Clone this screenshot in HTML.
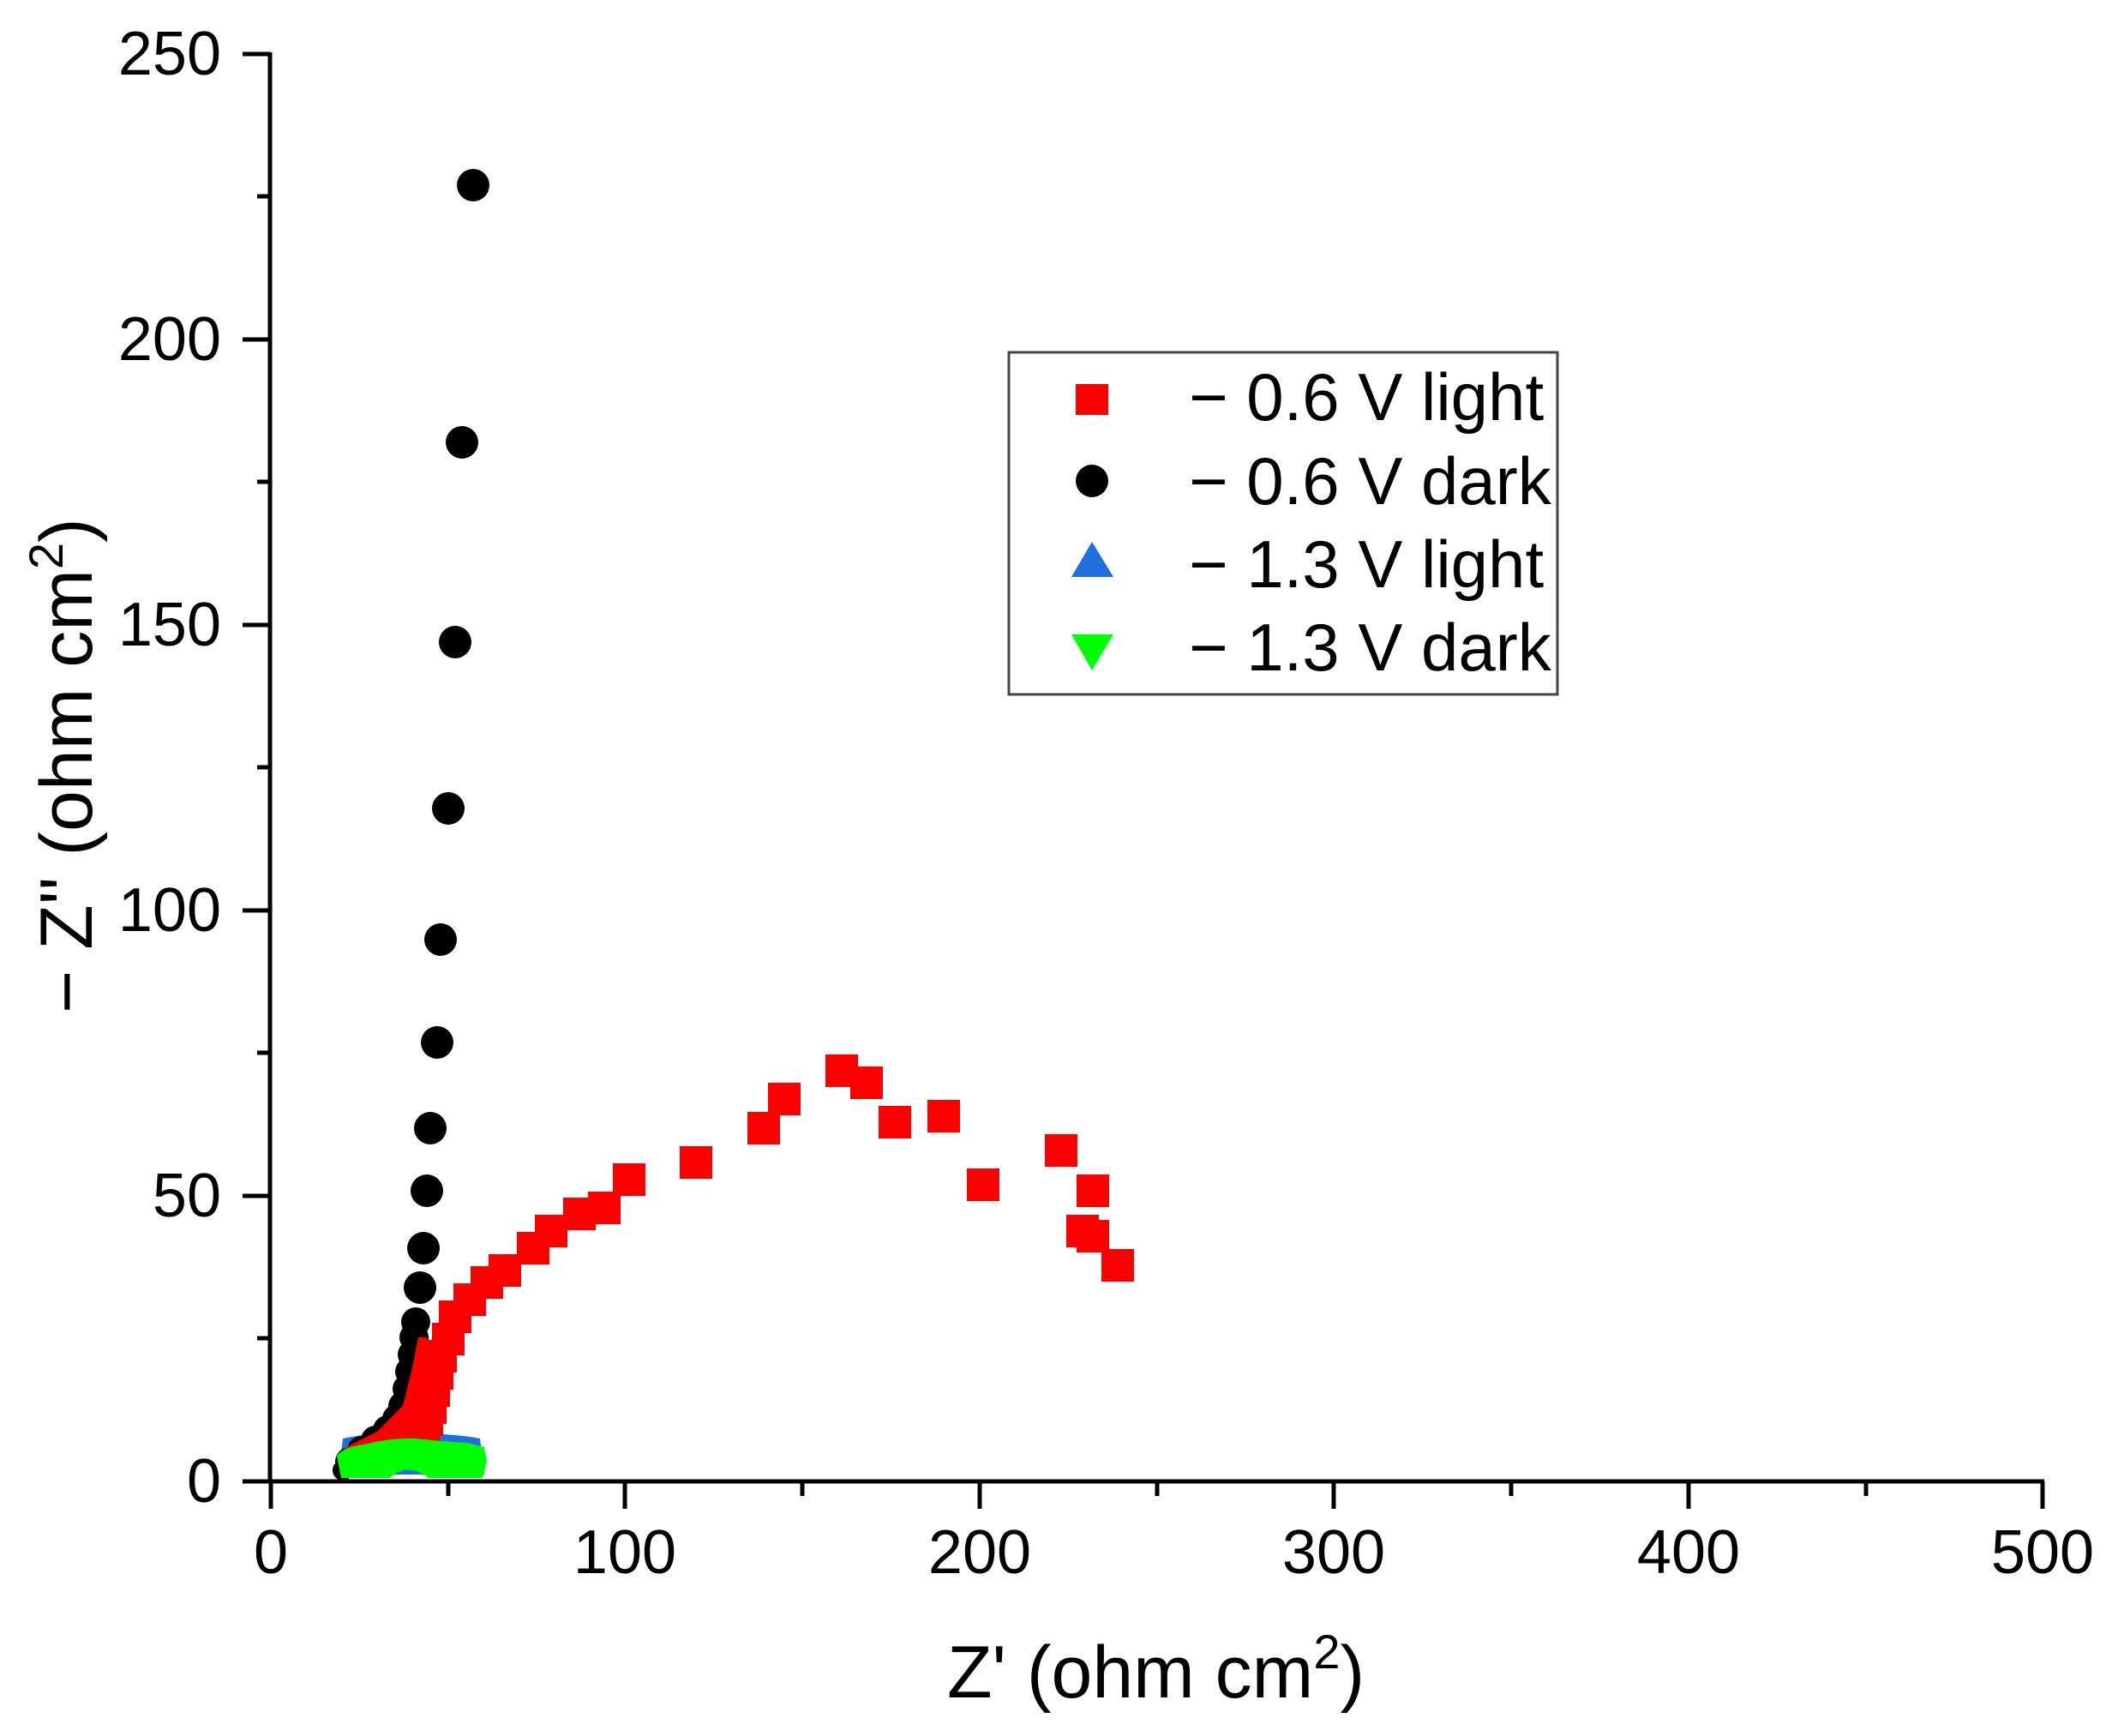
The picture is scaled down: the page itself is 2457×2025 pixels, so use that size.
<!DOCTYPE html>
<html><head><meta charset="utf-8"><style>
html,body{margin:0;padding:0;background:#fff;}
svg{display:block;font-family:"Liberation Sans",Arial,sans-serif;}
</style></head><body>
<svg width="2457" height="2025" viewBox="0 0 2457 2025" xmlns="http://www.w3.org/2000/svg">
<rect width="2457" height="2025" fill="#fff"/>
<g stroke="#000" stroke-width="5" fill="none">
<line x1="315" y1="61" x2="315" y2="1730"/>
<line x1="313" y1="1728" x2="2385" y2="1728"/>
<line x1="283" y1="63" x2="315" y2="63"/>
<line x1="283" y1="396" x2="315" y2="396"/>
<line x1="283" y1="729" x2="315" y2="729"/>
<line x1="283" y1="1062" x2="315" y2="1062"/>
<line x1="283" y1="1395" x2="315" y2="1395"/>
<line x1="283" y1="1728" x2="315" y2="1728"/>
<line x1="300" y1="229" x2="315" y2="229"/>
<line x1="300" y1="562" x2="315" y2="562"/>
<line x1="300" y1="895" x2="315" y2="895"/>
<line x1="300" y1="1228" x2="315" y2="1228"/>
<line x1="300" y1="1561" x2="315" y2="1561"/>
<line x1="316" y1="1728" x2="316" y2="1760"/>
<line x1="729" y1="1728" x2="729" y2="1760"/>
<line x1="1143" y1="1728" x2="1143" y2="1760"/>
<line x1="1556" y1="1728" x2="1556" y2="1760"/>
<line x1="1970" y1="1728" x2="1970" y2="1760"/>
<line x1="2383" y1="1728" x2="2383" y2="1760"/>
<line x1="523" y1="1728" x2="523" y2="1745"/>
<line x1="936" y1="1728" x2="936" y2="1745"/>
<line x1="1350" y1="1728" x2="1350" y2="1745"/>
<line x1="1763" y1="1728" x2="1763" y2="1745"/>
<line x1="2177" y1="1728" x2="2177" y2="1745"/>
</g>
<g font-size="72" fill="#000" text-anchor="end">
<text x="258" y="87">250</text>
<text x="258" y="420">200</text>
<text x="258" y="753">150</text>
<text x="258" y="1086">100</text>
<text x="258" y="1419">50</text>
<text x="258" y="1752">0</text>
</g>
<g font-size="72" fill="#000" text-anchor="middle">
<text x="316" y="1835">0</text>
<text x="729" y="1835">100</text>
<text x="1143" y="1835">200</text>
<text x="1556" y="1835">300</text>
<text x="1970" y="1835">400</text>
<text x="2383" y="1835">500</text>
</g>
<text x="1105" y="1980" font-size="86">Z' (ohm cm<tspan font-size="56" dy="-34">2</tspan><tspan dy="34">)</tspan></text>
<text transform="translate(107,1182) rotate(-90)" font-size="86">− Z'' (ohm cm<tspan font-size="56" dy="-34">2</tspan><tspan dy="34">)</tspan></text>

<path d="M400,1678 Q460,1666 500,1672 Q540,1674 560,1678 L565,1720 L395,1720 Z" fill="#1f6fe0"/>
<g fill="#000">
<circle cx="485" cy="1542" r="17"/><circle cx="483" cy="1560" r="17"/><circle cx="481" cy="1580" r="17"/>
<circle cx="478" cy="1600" r="17"/><circle cx="475" cy="1620" r="17"/><circle cx="470" cy="1640" r="17"/>
<circle cx="463" cy="1655" r="17"/><circle cx="452" cy="1668" r="17"/><circle cx="438" cy="1680" r="17"/>
<circle cx="422" cy="1692" r="17"/><circle cx="408" cy="1705" r="17"/><circle cx="400" cy="1715" r="12"/>
</g>
<g fill="#ff0000">
<path d="M400,1690 L440,1670 L470,1640 L480,1600 L488,1560 L498,1560 L496,1640 L478,1690 Z"/>
<rect x="1285" y="1457" width="38" height="38"/>
<rect x="1256" y="1423" width="38" height="38"/>
<rect x="1244" y="1417" width="38" height="38"/>
<rect x="1256" y="1370" width="38" height="38"/>
<rect x="1219" y="1323" width="38" height="38"/>
<rect x="1128" y="1363" width="38" height="38"/>
<rect x="1082" y="1283" width="38" height="38"/>
<rect x="1025" y="1290" width="38" height="38"/>
<rect x="992" y="1244" width="38" height="38"/>
<rect x="963" y="1230" width="38" height="38"/>
<rect x="896" y="1263" width="38" height="38"/>
<rect x="872" y="1297" width="38" height="38"/>
<rect x="793" y="1337" width="38" height="38"/>
<rect x="715" y="1357" width="38" height="38"/>
<rect x="686" y="1390" width="38" height="38"/>
<rect x="657" y="1397" width="38" height="38"/>
<rect x="624" y="1417" width="38" height="38"/>
<rect x="603" y="1437" width="38" height="38"/>
<rect x="570" y="1463" width="38" height="38"/>
<rect x="549" y="1477" width="38" height="38"/>
<rect x="529" y="1497" width="38" height="38"/>
<rect x="512" y="1517" width="38" height="38"/>
<rect x="504" y="1543" width="38" height="38"/>
<rect x="495" y="1563" width="38" height="38"/>
<rect x="491" y="1583" width="38" height="38"/>
<rect x="487" y="1603" width="38" height="38"/>
<rect x="483" y="1623" width="38" height="38"/>
<rect x="479" y="1637" width="38" height="38"/>
<rect x="475" y="1650" width="38" height="38"/>
</g>
<g fill="#000">
<circle cx="552" cy="216" r="19"/>
<circle cx="539" cy="516" r="19"/>
<circle cx="531" cy="749" r="19"/>
<circle cx="523" cy="943" r="19"/>
<circle cx="514" cy="1096" r="19"/>
<circle cx="510" cy="1216" r="19"/>
<circle cx="502" cy="1316" r="19"/>
<circle cx="498" cy="1389" r="19"/>
<circle cx="494" cy="1456" r="19"/>
<circle cx="490" cy="1502" r="19"/>
</g>
<path d="M393,1698 Q400,1688 425,1685 Q455,1677 485,1678 Q520,1682 545,1683 L565,1688 L568,1705 L563,1724 L500,1724 Q475,1705 455,1724 L398,1724 Z" fill="#00ff00"/>

<rect x="1177" y="411" width="640" height="399" fill="#fff" stroke="#444" stroke-width="3"/>
<rect x="1255" y="448" width="38" height="36" fill="#ff0000"/>
<circle cx="1274" cy="561" r="19" fill="#000"/>
<polygon points="1274,632 1299,673 1250,673" fill="#1f6fe0"/>
<polygon points="1250,740 1299,740 1274,782" fill="#00ff00"/>
<g font-size="78" fill="#000">
<text x="1387" y="490">− 0.6 V light</text>
<text x="1387" y="588">− 0.6 V dark</text>
<text x="1387" y="685">− 1.3 V light</text>
<text x="1387" y="782">− 1.3 V dark</text>
</g>
</svg>
</body></html>
